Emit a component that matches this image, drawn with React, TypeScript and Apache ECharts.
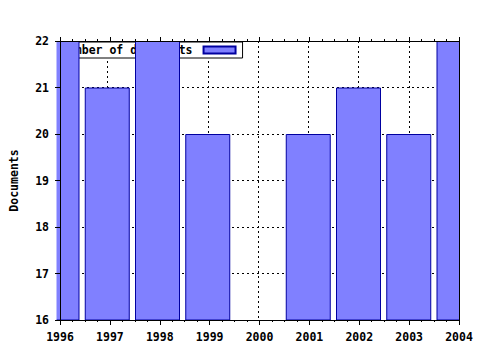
import React, { useEffect, useRef } from "react";
import * as echarts from "echarts";

const years = [1996, 1997, 1998, 1999, 2000, 2001, 2002, 2003, 2004];
const documents = [22, 21, 22, 20, 16, 20, 21, 20, 22];
const seriesName = "Number of documents";
const yTicks = { min: 16, max: 22, interval: 1 };

const FONT = "DejaVu Sans Mono";

export default function App() {
  const ref = useRef<HTMLDivElement>(null);
  useEffect(() => {
    if (!ref.current) return;
    const chart = echarts.init(ref.current, null, { renderer: "svg" });
    const W = 480, H = 350;
    const gridPos = { left: 57, right: 21, top: 41, bottom: 30 };
    const xRange = { min: years[0], max: years[years.length - 1], interval: 1 };
    const labelStyle = { color: "#000", fontFamily: FONT, fontWeight: "bold" as const, fontSize: 11.5 };
    chart.setOption({
      animation: false,
      backgroundColor: "#fff",
      grid: [
        { ...gridPos, show: false },
        { ...gridPos, show: false },
      ],
      graphic: [
        { type: "rect", z: 5, silent: true, shape: { x: 0, y: 0, width: gridPos.left - 0.5, height: H }, style: { fill: "#fff" } },
        { type: "rect", z: 5, silent: true, shape: { x: W - gridPos.right + 0.5, y: 0, width: gridPos.right, height: H }, style: { fill: "#fff" } },
      ],
      legend: {
        show: true,
        z: 1,
        left: 57,
        top: 42,
        padding: [2, 6, 2, 4],
        backgroundColor: "#fff",
        borderColor: "#000",
        borderWidth: 1,
        borderRadius: 0,
        align: "right",
        itemWidth: 32,
        itemHeight: 7,
        icon: "rect",
        textStyle: { ...labelStyle, padding: [0, 6, 0, 0] },
        data: [seriesName],
        selectedMode: false,
      },
      xAxis: [
        {
          type: "value", gridIndex: 0, ...xRange, position: "bottom",
          axisLine: { show: false }, axisTick: { show: false }, axisLabel: { show: false },
          splitLine: { show: true, lineStyle: { color: "#000", type: [2, 3], width: 1 } },
          z: 0,
        },
        {
          type: "value", gridIndex: 1, ...xRange, position: "bottom", z: 10,
          axisLine: { show: true, lineStyle: { color: "#000", width: 1 } },
          axisTick: { show: true, inside: false, length: 5, lineStyle: { color: "#000" } },
          minorTick: { show: true, splitNumber: 4, length: 2, lineStyle: { color: "#000" } },
          axisLabel: { ...labelStyle, margin: 11, formatter: (v: number) => String(v) },
          splitLine: { show: false },
        },
        {
          type: "value", gridIndex: 1, ...xRange, position: "top", z: 10,
          axisLine: { show: true, lineStyle: { color: "#000", width: 1 } },
          axisTick: { show: true, inside: false, length: 4, lineStyle: { color: "#000" } },
          minorTick: { show: true, splitNumber: 4, length: 2, lineStyle: { color: "#000" } },
          axisLabel: { show: false },
          splitLine: { show: false },
        },
      ],
      yAxis: [
        {
          type: "value", gridIndex: 0, ...yTicks, position: "left",
          axisLine: { show: false }, axisTick: { show: false }, axisLabel: { show: false },
          splitLine: { show: true, lineStyle: { color: "#000", type: [2, 3], width: 1 } },
          z: 0,
        },
        {
          type: "value", gridIndex: 1, ...yTicks, position: "left", z: 10,
          name: "Documents", nameLocation: "middle", nameGap: 40, nameRotate: 90,
          nameTextStyle: labelStyle,
          axisLine: { show: true, lineStyle: { color: "#000", width: 1 } },
          axisTick: { show: true, inside: false, length: 5, lineStyle: { color: "#000" } },
          axisLabel: { ...labelStyle, margin: 11 },
          splitLine: { show: false },
        },
        {
          type: "value", gridIndex: 1, ...yTicks, position: "right", z: 10,
          axisLine: { show: true, lineStyle: { color: "#000", width: 1 } },
          axisTick: { show: false }, axisLabel: { show: false },
          splitLine: { show: false },
        },
      ],
      series: [
        {
          name: seriesName,
          type: "bar",
          xAxisIndex: 0,
          yAxisIndex: 0,
          z: 3,
          barWidth: 45,
          clip: true,
          data: years.map((y, i) => [y, documents[i]]),
          itemStyle: { color: "#8080ff", borderColor: "#0000a0", borderWidth: 1 },
        },
      ],
    });
    return () => chart.dispose();
  }, []);
  return <div ref={ref} style={{ width: 480, height: 350, position: "absolute", left: 0, top: 0 }} />;
}
